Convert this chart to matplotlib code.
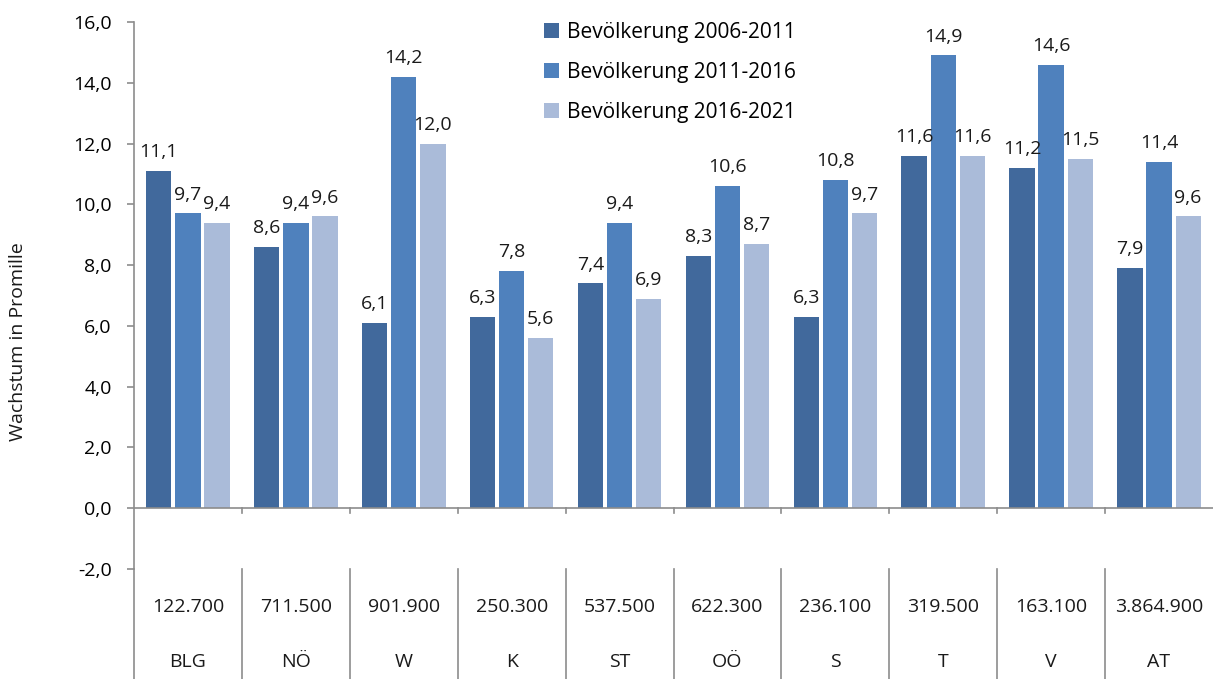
import numpy as np
import matplotlib.pyplot as plt

regions = ['BLG', 'NÖ', 'W', 'K', 'ST', 'OÖ', 'S', 'T', 'V', 'AT']
population = ['122.700', '711.500', '901.900', '250.300', '537.500',
              '622.300', '236.100', '319.500', '163.100', '3.864.900']
growth_2006_2011 = [11.1, 8.6, 6.1, 6.3, 7.4, 8.3, 6.3, 11.6, 11.2, 7.9]
growth_2011_2016 = [9.7, 9.4, 14.2, 7.8, 9.4, 10.6, 10.8, 14.9, 14.6, 11.4]
growth_2016_2021 = [9.4, 9.6, 12.0, 5.6, 6.9, 8.7, 9.7, 11.6, 11.5, 9.6]
series_labels = ['Bevölkerung 2006-2011', 'Bevölkerung 2011-2016', 'Bevölkerung 2016-2021']
colors = ['#41699C', '#4F81BD', '#AABBD9']

plt.rcParams['font.family'] = ['Open Sans', 'DejaVu Sans']
plt.rcParams['font.size'] = 14

fig = plt.figure(figsize=(12.13, 6.79), dpi=100)
ax = fig.add_axes([134 / 1213, 110 / 679, 1 - 134 / 1213, 547 / 679])

x = np.arange(len(regions))
width = 0.235
offsets = [-0.27, 0, 0.27]
all_series = [growth_2006_2011, growth_2011_2016, growth_2016_2021]
for vals, off, col, lab in zip(all_series, offsets, colors, series_labels):
    bars = ax.bar(x + off, vals, width, color=col, label=lab, zorder=2)
    for b, v in zip(bars, vals):
        ax.annotate(('%.1f' % v).replace('.', ','), (b.get_x() + b.get_width() / 2, v),
                    xytext=(0, 7), textcoords='offset points',
                    ha='center', va='bottom', color='#1a1a1a')

ax.set_xlim(-0.5, 9.5)
ax.set_ylim(-2, 16)
ax.set_yticks(np.arange(-2, 17, 2))
ax.set_yticklabels([('%.1f' % t).replace('.', ',') for t in np.arange(-2, 17, 2)])
ax.tick_params(axis='y', length=5, width=1.2, color='#8c8c8c', direction='out', pad=11)
ax.set_xticks([])

gray = '#8c8c8c'
for s in ['top', 'right', 'bottom']:
    ax.spines[s].set_visible(False)
ax.spines['left'].set_color(gray)
ax.spines['left'].set_linewidth(1.2)

# x axis line at zero with small ticks
ax.axhline(0, color=gray, lw=1.2, zorder=3)
bottom = -5.62
for b in np.arange(0.5, 9.5, 1):
    ax.plot([b, b], [0, -0.17], color=gray, lw=1.2, clip_on=False)
    ax.plot([b, b], [-2, bottom], color=gray, lw=1.2, clip_on=False)
ax.plot([-0.5, -0.5], [-2, bottom], color=gray, lw=1.2, clip_on=False)

# category table below the axis
for i in x:
    ax.text(i, -3.25, population[i], ha='center', va='center', color='#1a1a1a')
    ax.text(i, -5.06, regions[i], ha='center', va='center', color='#1a1a1a')

fig.text(18 / 1213, 1 - 342 / 679, 'Wachstum in Promille', rotation=90,
         ha='center', va='center', color='#1a1a1a')

ax.legend(loc='upper left', bbox_to_anchor=(0.363, 1.035), frameon=False,
          handlelength=0.7, handleheight=0.7, handletextpad=0.4,
          labelspacing=0.92, fontsize=15)

fig.savefig('out.png', dpi=100)
